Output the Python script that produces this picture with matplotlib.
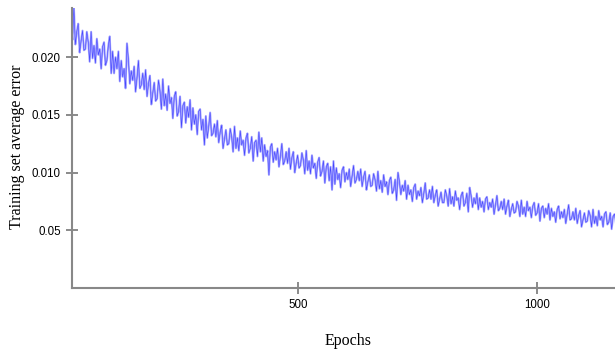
import numpy as np
import matplotlib.pyplot as plt

## epocas (uma leitura a cada 3 epocas)
epochs = np.arange(25, 1166, 3)

## erro medio no conjunto de treino, em unidades de 1e-4
err_e4 = [225, 215, 243, 211, 222, 229, 204, 214, 223, 206,
          207, 222, 213, 196, 222, 199, 210, 195, 216, 202,
          207, 190, 209, 213, 193, 197, 210, 218, 186, 205,
          186, 200, 190, 205, 179, 197, 183, 190, 173, 212,
          198, 177, 188, 180, 192, 170, 182, 197, 173, 176,
          186, 172, 189, 166, 177, 184, 159, 169, 178, 162,
          164, 180, 171, 155, 181, 158, 168, 154, 175, 160,
          165, 147, 166, 170, 149, 153, 166, 139, 158, 161,
          143, 157, 148, 163, 137, 156, 142, 150, 133, 153,
          155, 137, 146, 124, 149, 130, 140, 152, 132, 134,
          142, 131, 145, 126, 135, 141, 121, 129, 137, 124,
          125, 138, 131, 118, 140, 121, 130, 119, 136, 124,
          128, 115, 130, 134, 117, 121, 131, 110, 126, 128,
          114, 135, 118, 130, 110, 124, 114, 119, 98, 122,
          125, 109, 118, 111, 121, 105, 114, 125, 107, 110,
          118, 108, 121, 103, 113, 118, 100, 108, 115, 104,
          106, 117, 111, 99, 119, 102, 110, 99, 115, 104,
          108, 95, 109, 113, 97, 101, 110, 91, 105, 108,
          93, 105, 85, 110, 90, 104, 94, 99, 87, 102,
          105, 92, 100, 94, 103, 88, 97, 106, 91, 94,
          101, 93, 103, 88, 96, 101, 85, 92, 98, 88,
          89, 99, 94, 84, 101, 86, 93, 83, 98, 88,
          92, 81, 93, 96, 82, 85, 94, 76, 100, 92,
          81, 89, 84, 93, 77, 89, 81, 85, 75, 87,
          90, 77, 84, 80, 87, 74, 82, 91, 77, 78,
          85, 77, 88, 74, 80, 85, 71, 77, 83, 74,
          74, 85, 80, 71, 86, 73, 79, 71, 84, 76,
          78, 68, 80, 83, 71, 74, 82, 66, 87, 80,
          70, 78, 73, 82, 68, 78, 70, 75, 66, 77,
          79, 68, 74, 70, 77, 64, 72, 80, 67, 69,
          75, 68, 77, 64, 71, 76, 62, 68, 73, 65,
          66, 75, 71, 62, 76, 64, 70, 62, 75, 67,
          70, 61, 71, 74, 63, 65, 73, 58, 69, 71,
          61, 69, 64, 73, 59, 69, 62, 66, 57, 68,
          71, 60, 66, 61, 68, 56, 64, 72, 59, 60,
          66, 59, 69, 56, 63, 67, 53, 59, 65, 57,
          58, 67, 63, 53, 68, 56, 62, 54, 67, 59,
          62, 53, 64, 66, 55, 57, 65, 51, 62, 64,
          56]
err = np.array(err_e4) / 1e4

yticks = [0.005, 0.010, 0.015, 0.020]
ylabels = ['0.05', '0.010', '0.015', '0.020']  ## rotulo igual ao original
xticks = [500, 1000]

fig = plt.figure(figsize=(6.15, 3.51), dpi=100)
ax = fig.add_axes([72/615, 63/351, 543/615, 280/351])

ax.plot(epochs, err, color='#0000ff', alpha=0.35, lw=1.5)
ax.plot(epochs, err, color='#0000ff', alpha=0.6, lw=0.4)

ax.set_xlim(27, 1163)
ax.set_ylim(0, 0.02426)
ax.set_xticks(xticks)
ax.set_yticks(yticks)
ax.set_yticklabels(ylabels)

for s in ['top', 'right']:
    ax.spines[s].set_visible(False)
for s in ['left', 'bottom']:
    ax.spines[s].set_color('#888888')
    ax.spines[s].set_linewidth(1.5)

ax.tick_params(direction='inout', length=8, width=1.2, color='#777777',
               labelsize=8.3, pad=4)
for lab in ax.get_xticklabels() + ax.get_yticklabels():
    lab.set_family('Liberation Sans')

fig.text(348/615, 1 - 341/351, 'Epochs', family='Liberation Serif',
         fontsize=11.5, ha='center', va='center')
fig.text(17/615, 1 - 147/351, 'Training set average error',
         family='Liberation Serif', fontsize=11.5, rotation=90,
         ha='center', va='center')

fig.savefig('out.png', dpi=100)
